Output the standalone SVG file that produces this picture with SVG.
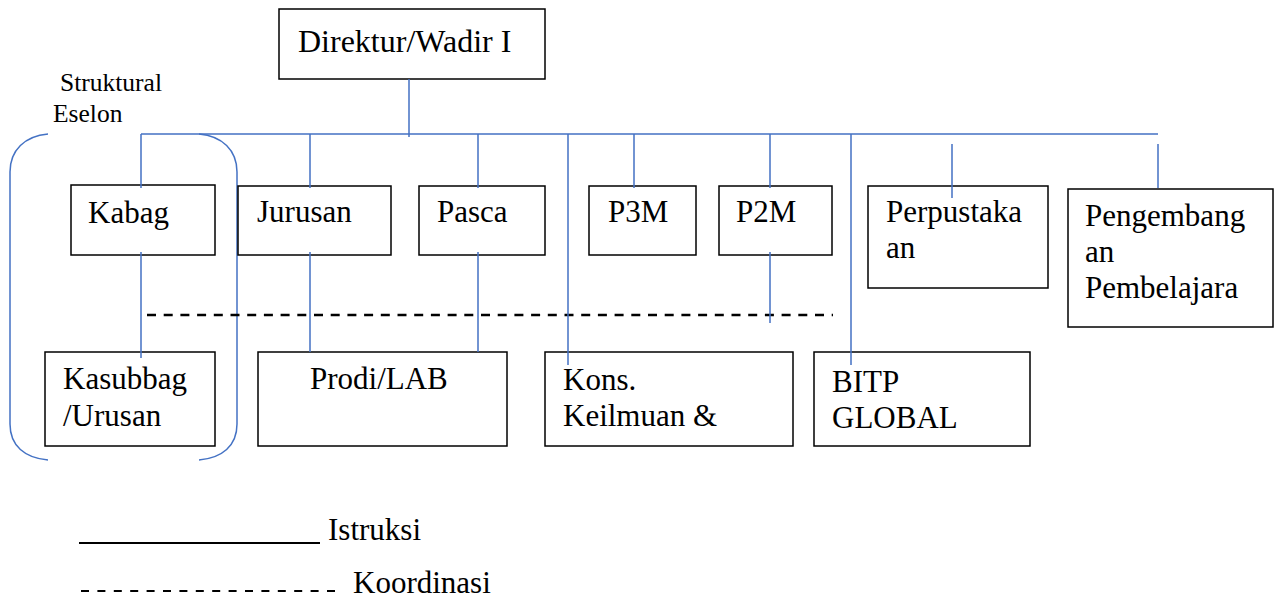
<svg xmlns="http://www.w3.org/2000/svg" width="1277" height="600" viewBox="0 0 1277 600">
<style>
.box{fill:#fff;stroke:#000;stroke-width:1.5}
.t{font-size:31px;fill:#000}
.s{font-size:25.5px;fill:#000}
.c{stroke:#4472C4;stroke-width:1.5;fill:none}
.d{stroke:#000;stroke-width:2.5;stroke-dasharray:9 7.7;fill:none}
</style>
<rect width="1277" height="600" fill="#fff"/>
<g font-family="Liberation Serif, Times New Roman, DejaVu Serif, serif">
<g id="label-struktural">
<text class="s" x="60" y="91">Struktural</text>
<text class="s" x="53" y="122">Eselon</text>
</g>
<g id="bracket">
<path class="c" d="M48,134 C25,136 10,150 10,172 L10,424 C10,446 25,458 48,460"/>
<path class="c" d="M199,134 C222,136 237,150 237,172 L237,424 C237,446 222,458 199,460"/>
</g>
<g id="direktur"><rect class="box" x="279" y="9" width="266" height="70"/><text class="t" x="298" y="52" style="font-size:32px">Direktur/Wadir I</text></g>
<g id="kabag"><rect class="box" x="71" y="185" width="144" height="70"/><text class="t" x="88" y="223">Kabag</text></g>
<g id="jurusan"><rect class="box" x="238" y="186" width="153" height="69"/><text class="t" x="257" y="222">Jurusan</text></g>
<g id="pasca"><rect class="box" x="419" y="186" width="126" height="69"/><text class="t" x="437" y="222">Pasca</text></g>
<g id="p3m"><rect class="box" x="589" y="186" width="107" height="69"/><text class="t" x="608" y="222">P3M</text></g>
<g id="p2m"><rect class="box" x="719" y="186" width="113" height="69"/><text class="t" x="736" y="222">P2M</text></g>
<g id="perpustakaan"><rect class="box" x="868" y="186" width="180" height="102"/><text class="t" x="886" y="222">Perpustaka</text><text class="t" x="886" y="258">an</text></g>
<g id="pengembangan"><rect class="box" x="1068" y="189" width="205" height="138"/><text class="t" x="1085" y="226">Pengembang</text><text class="t" x="1085" y="262">an</text><text class="t" x="1085" y="298">Pembelajara</text></g>
<g id="kasubbag"><rect class="box" x="45" y="352" width="170" height="94"/><text class="t" x="63" y="389">Kasubbag</text><text class="t" x="63" y="426">/Urusan</text></g>
<g id="prodi"><rect class="box" x="258" y="352" width="249" height="94"/><text class="t" x="310" y="389">Prodi/LAB</text></g>
<g id="kons"><rect class="box" x="545" y="352" width="248" height="94"/><text class="t" x="563" y="390">Kons.</text><text class="t" x="563" y="426">Keilmuan &amp;</text></g>
<g id="bitp"><rect class="box" x="814" y="352" width="216" height="94"/><text class="t" x="832" y="392">BITP</text><text class="t" x="832" y="428">GLOBAL</text></g>
<g id="connectors">
<line class="d" x1="147" y1="315" x2="833" y2="315"/>
<path class="c" d="M409,79V137 M141,134H1158 M141,134V188 M141,252V358 M310,134V188 M310,252V352 M478,134V188 M478,252V352 M568,134V365 M634,134V188 M770,134V188 M770,252V323 M851,134V365 M952,144V198 M1158,144V188"/>
</g>
<g id="legend">
<line x1="79" y1="543" x2="320" y2="543" stroke="#000" stroke-width="2"/>
<text class="t" x="328" y="540">Istruksi</text>
<line x1="81" y1="591" x2="338" y2="591" stroke="#000" stroke-width="2" stroke-dasharray="8 8.4"/>
<text class="t" x="353" y="593">Koordinasi</text>
</g>
</g>
</svg>
